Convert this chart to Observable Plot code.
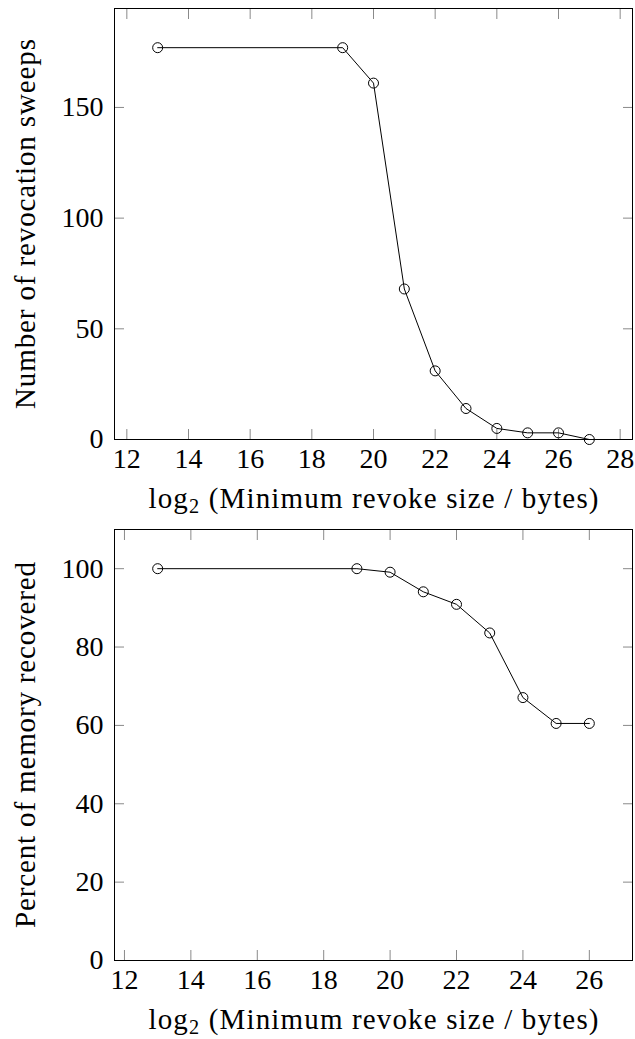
<!DOCTYPE html>
<html><head><meta charset="utf-8">
<script src="https://cdn.jsdelivr.net/npm/d3@7"></script>
<script src="https://cdn.jsdelivr.net/npm/@observablehq/plot@0.6"></script>
<style>
body{margin:0;background:#fff}
#c{width:635px}
svg{display:block}
svg text{font-family:'Liberation Serif', serif !important; font-size:28px; fill:#000}
svg g[aria-label="x-axis label"] text, svg g[aria-label="y-axis label"] text{font-size:29px}
</style>
</head><body><div id="c"></div>
<script>
// Top panel: number of revocation sweeps
const sweepSizes = [13, 19, 20, 21, 22, 23, 24, 25, 26, 27];
const sweepCounts = [177, 177, 161, 68, 31, 14, 5, 3, 3, 0];
const sweepXTicks = [12, 14, 16, 18, 20, 22, 24, 26, 28];
const sweepYTicks = [0, 50, 100, 150];

// Bottom panel: percent of memory recovered
const recoverSizes = [13, 19, 20, 21, 22, 23, 24, 25, 26];
const recoverPercent = [100, 100, 99.1, 94.1, 90.9, 83.6, 67.1, 60.5, 60.5];
const recoverXTicks = [12, 14, 16, 18, 20, 22, 24, 26];
const recoverYTicks = [0, 20, 40, 60, 80, 100];

const xLabel = "log2 (Minimum revoke size / bytes)";
const FS = 28;

function panel({xs, ys, xDomain, yDomain, xTicks, yTicks, yLabel, yLabelLength, height, marginTop, marginBottom}) {
  const data = xs.map((x, i) => ({x, y: ys[i]}));
  const tickStyle = {stroke: "#8a8a8a", strokeWidth: 1};
  const svg = Plot.plot({
    width: 635,
    height,
    marginTop,
    marginBottom,
    marginLeft: 114,
    marginRight: 3,
    x: {domain: xDomain},
    y: {domain: yDomain},
    marks: [
      Plot.axisX({anchor: "bottom", ticks: xTicks, tickSize: -10, tickPadding: 19, fontSize: FS, label: xLabel, labelAnchor: "center", labelOffset: 68, labelArrow: "none", ...tickStyle}),
      Plot.axisX({anchor: "top", ticks: xTicks, tickSize: -10, tickFormat: () => "", label: null, ...tickStyle}),
      Plot.axisY({anchor: "left", ticks: yTicks, tickSize: -10, tickPadding: 21, fontSize: FS, label: yLabel, labelAnchor: "center", labelOffset: 100, labelArrow: "none", ...tickStyle}),
      Plot.axisY({anchor: "right", ticks: yTicks, tickSize: -10, tickFormat: () => "", label: null, ...tickStyle}),
      Plot.frame({stroke: "black", strokeWidth: 1}),
      Plot.line(data, {x: "x", y: "y", stroke: "black", strokeWidth: 1}),
      Plot.dot(data, {x: "x", y: "y", r: 5, stroke: "black", fill: "none", strokeWidth: 1})
    ]
  });
  svg.querySelectorAll('[aria-label="x-axis label"] text').forEach(t => {
    t.innerHTML = 'log<tspan baseline-shift="-25%" font-size="70%">2</tspan> (Minimum revoke size / bytes)';
    t.setAttribute("textLength", 450);
    t.setAttribute("lengthAdjust", "spacing");
  });
  svg.querySelectorAll('[aria-label="y-axis label"] text').forEach(t => {
    t.setAttribute("textLength", yLabelLength);
    t.setAttribute("lengthAdjust", "spacing");
  });
  return svg;
}

const c = document.getElementById("c");
c.appendChild(panel({
  xs: sweepSizes, ys: sweepCounts,
  xDomain: [11.6, 28.4], yDomain: [0, 194.7],
  xTicks: sweepXTicks, yTicks: sweepYTicks,
  yLabel: "Number of revocation sweeps", yLabelLength: 370,
  height: 520, marginTop: 8, marginBottom: 81
}));
c.appendChild(panel({
  xs: recoverSizes, ys: recoverPercent,
  xDomain: [11.7, 27.3], yDomain: [0, 110],
  xTicks: recoverXTicks, yTicks: recoverYTicks,
  yLabel: "Percent of memory recovered", yLabelLength: 366,
  height: 519, marginTop: 9, marginBottom: 79
}));
</script>
</body></html>
